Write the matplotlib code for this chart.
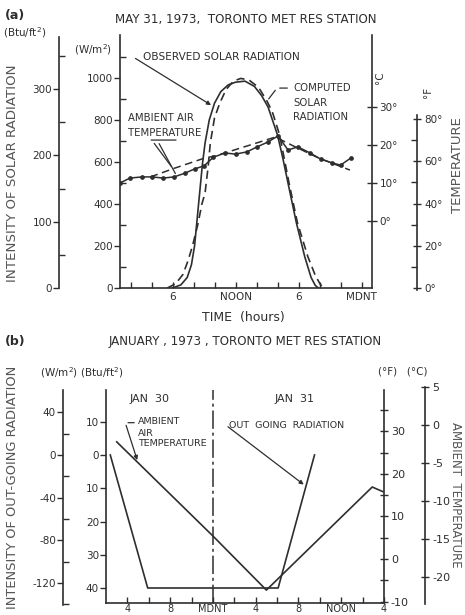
import numpy as np
import matplotlib.pyplot as plt
from matplotlib.ticker import FixedLocator, FuncFormatter

plt.rcParams['font.family'] = 'DejaVu Sans'
plt.rcParams['axes.unicode_minus'] = False

INK = '#2e2e2e'

# ---- panel (a): May 31, 1973 ----
obs_solar_h = [6.0, 6.8, 7.4, 7.8, 8.1, 8.35, 8.6, 8.85, 9.1, 9.5, 10.0, 10.6, 11.3, 12.0, 12.9,
               13.8, 14.5, 15.1, 16.0, 16.5, 17.0, 17.8, 18.6, 19.2, 19.6, 19.9]
obs_solar_w = [0, 15, 50, 110, 200, 330, 460, 590, 690, 800, 880, 935, 967, 980, 985,
               960, 915, 862, 729, 620, 500, 310, 148, 50, 12, 0]
cmp_solar_h = [5.5, 6.3, 7.0, 7.5, 7.9, 8.4, 8.8, 9.1, 9.4, 9.6, 10.0, 10.5, 11.1, 11.8, 12.5,
               13.3, 14.2, 15.0, 15.5, 16.2, 17.1, 17.9, 18.9, 19.6, 20.1, 20.5]
cmp_solar_w = [0, 20, 65, 133, 200, 300, 400, 452, 580, 690, 810, 880, 945, 985, 998,
               990, 955, 890, 840, 729, 500, 310, 148, 60, 15, 0]

obs_temp_h = [1.0, 1.95, 3.1, 4.05, 5.1, 6.15, 7.2, 8.1, 9.0, 9.9, 11.0, 12.0, 13.1, 14.05,
              15.1, 16.05, 17.0, 17.95, 19.1, 20.1, 21.2, 22.0, 23.0]
obs_temp_c = [10.0, 11.3, 11.6, 11.6, 11.3, 11.6, 12.6, 13.7, 14.5, 16.8, 17.9, 17.6, 18.2, 19.5,
              20.8, 22.4, 18.7, 19.5, 17.9, 16.3, 15.3, 14.7, 16.6]
cmp_temp_h = [3.9, 6.2, 9.1, 10.05, 13.4, 15.8, 17.4, 19.9, 22.9]
cmp_temp_c = [11.6, 13.9, 16.6, 17.1, 20.0, 22.1, 19.9, 16.6, 13.4]

a_xticks = [6, 12, 18, 24]
a_xlabels = ['6', 'NOON', '6', 'MDNT']

# ---- panel (b): January 30-31, 1973 (hours from Jan 30 midnight) ----
rad_h = [14.4, 17.9, 30.1, 33.5]
rad_btu = [0, 40, 40, 0]          # out-going, Btu/ft2
air_h = [15.0, 24.0, 29.0, 38.9, 39.9]
air_f = [27.5, 5.4, -7.3, 16.9, 15.8]

b_xticks = [16, 20, 24, 28, 32, 36, 40]
b_xlabels = ['4', '8', 'MDNT', '4', '8', 'NOON', '4']

W, H = 465, 615
fig = plt.figure(figsize=(W / 100, H / 100), dpi=100)


def box(x0, x1, y0, y1):
    return [x0 / W, 1 - y1 / H, (x1 - x0) / W, (y1 - y0) / H]


def lim(y_top, y_bot, y_ref, v_ref, ppu):
    # value range of a vertical pixel span, linear scale
    return (v_ref + (y_ref - y_bot) / ppu, v_ref + (y_ref - y_top) / ppu)


def ftext(x, y, s, **kw):
    kw.setdefault('color', INK)
    kw.setdefault('fontsize', 7.5)
    kw.setdefault('va', 'center')
    fig.text(x / W, 1 - y / H, s, **kw)


def spine_axis(x, y0, y1, ylim, side):
    a = fig.add_axes(box(x, x + 0.05, y0, y1))
    a.set_ylim(*ylim)
    a.patch.set_visible(False)
    for s in a.spines.values():
        s.set_visible(False)
    a.spines[side].set_visible(True)
    a.spines[side].set_color(INK)
    a.spines[side].set_linewidth(1.2)
    a.set_xticks([])
    if side == 'right':
        a.yaxis.tick_right()
    return a


def style_ticks(a, axis='y', size=7.5):
    a.tick_params(axis=axis, which='both', colors=INK, labelcolor=INK, labelsize=size,
                  width=1.0)


# ================= panel (a) =================
ax = fig.add_axes(box(120, 372, 35, 288))
ax.set_xlim(1, 25)
ax.set_ylim(*lim(35, 288, 288, 0, 0.21))
ax.spines['top'].set_visible(False)
for s in ['left', 'bottom', 'right']:
    ax.spines[s].set_color(INK)
    ax.spines[s].set_linewidth(1.2)

ax.plot(obs_solar_h, obs_solar_w, color=INK, lw=1.2)
ax.plot(cmp_solar_h, cmp_solar_w, color=INK, lw=1.2, ls=(0, (5, 3)))

ax.xaxis.set_major_locator(FixedLocator(a_xticks))
ax.set_xticklabels(a_xlabels)
ax.xaxis.set_minor_locator(FixedLocator(list(range(2, 25, 2))))
ax.tick_params(axis='x', which='both', direction='in', length=4, pad=3)
style_ticks(ax, 'x')
ax.yaxis.set_major_locator(FixedLocator(list(range(0, 1001, 200))))
ax.yaxis.set_minor_locator(FixedLocator(list(range(100, 1200, 200))))
ax.tick_params(axis='y', which='major', direction='out', length=4, pad=1)
ax.tick_params(axis='y', which='minor', direction='in', length=4)
style_ticks(ax)

axc = ax.twinx()
axc.set_ylim(*lim(35, 288, 221, 0, 3.8))
for s in axc.spines.values():
    s.set_visible(False)
axc.plot(obs_temp_h, obs_temp_c, color=INK, lw=1.1, marker='o', ms=2.4)
axc.plot(cmp_temp_h, cmp_temp_c, color=INK, lw=1.1, ls=(0, (5, 3)))
axc.yaxis.set_major_locator(FixedLocator([0, 10, 20, 30]))
axc.yaxis.set_major_formatter(FuncFormatter(lambda v, p: '%d°' % v))
axc.tick_params(axis='y', direction='inout', length=7, pad=2)
style_ticks(axc)

btu_a = spine_axis(59, 37, 288, lim(37, 288, 288, 0, 0.663), 'left')
btu_a.yaxis.set_major_locator(FixedLocator([0, 100, 200, 300]))
btu_a.yaxis.set_minor_locator(FixedLocator([50, 150, 250, 350]))
btu_a.tick_params(axis='y', which='major', direction='out', length=4, pad=1)
btu_a.tick_params(axis='y', which='minor', direction='in', length=4)
style_ticks(btu_a)

degf_a = spine_axis(417, 115, 290, lim(115, 290, 288.0, 0, 2.111), 'right')
degf_a.yaxis.set_major_locator(FixedLocator([0, 20, 40, 60, 80]))
degf_a.yaxis.set_minor_locator(FixedLocator([10, 30, 50, 70]))
degf_a.yaxis.set_major_formatter(FuncFormatter(lambda v, p: '%d°' % v))
degf_a.tick_params(axis='y', which='major', direction='inout', length=6, pad=2)
degf_a.tick_params(axis='y', which='minor', direction='in', length=4)
style_ticks(degf_a)

# annotations (a)
ax.annotate('', xy=(9.9, np.interp(9.9, obs_solar_h, obs_solar_w)), xytext=(2.25, 1100),
            arrowprops=dict(arrowstyle='-|>', color=INK, lw=0.9, mutation_scale=6))
ax.annotate('', xy=(15.0, np.interp(15.0, cmp_solar_h, cmp_solar_w)), xytext=(15.95, 952),
            arrowprops=dict(arrowstyle='-', color=INK, lw=0.9))
ax.annotate('', xy=(15.95, 952), xytext=(17.2, 952),
            arrowprops=dict(arrowstyle='-', color=INK, lw=0.9))
axc.annotate('', xy=(3.7, 21.3), xytext=(6.6, 21.3),
             arrowprops=dict(arrowstyle='-', color=INK, lw=0.9))
axc.annotate('', xy=(6.05, np.interp(6.05, cmp_temp_h, cmp_temp_c)), xytext=(4.1, 21.0),
             arrowprops=dict(arrowstyle='-', color=INK, lw=0.9))
axc.annotate('', xy=(6.4, np.interp(6.4, obs_temp_h, obs_temp_c)), xytext=(4.6, 21.0),
             arrowprops=dict(arrowstyle='-', color=INK, lw=0.9))

ftext(5, 15, '(a)', fontsize=9, fontweight='bold')
ftext(246, 19, 'MAY 31, 1973,  TORONTO MET RES STATION', fontsize=8.6, ha='center')
ftext(3, 33, '(Btu/ft$^2$)', fontsize=7.5)
ftext(74, 50, '(W/m$^2$)', fontsize=7.5)
ftext(143, 57, 'OBSERVED SOLAR RADIATION', fontsize=7.6)
ftext(128, 118, 'AMBIENT AIR', fontsize=7.3)
ftext(128, 133, 'TEMPERATURE', fontsize=7.3)
ftext(293, 88, 'COMPUTED', fontsize=7.3)
ftext(293, 103, 'SOLAR', fontsize=7.3)
ftext(293, 117, 'RADIATION', fontsize=7.3)
ftext(380, 78, '°C', fontsize=7.5, rotation=90, ha='center')
ftext(428, 92, '°F', fontsize=7.5, rotation=90, ha='center')
ftext(457, 165, 'TEMPERATURE', fontsize=9.5, rotation=90, ha='center', color='#555555')
ftext(13, 173, 'INTENSITY OF SOLAR RADIATION', fontsize=9.6, rotation=90, ha='center',
      color='#555555')
ftext(243, 318, 'TIME  (hours)', fontsize=9, ha='center')

# ================= panel (b) =================
bx = fig.add_axes(box(106, 384, 390, 603))
bx.set_xlim(14, 40)
btu_lo, btu_hi = lim(390, 603, 455, 0, -3.325)
bx.set_ylim(btu_lo, btu_hi)
bx.spines['top'].set_visible(False)
bx.spines['right'].set_visible(False)
for s in ['left', 'bottom']:
    bx.spines[s].set_color(INK)
    bx.spines[s].set_linewidth(1.2)

bx.plot(rad_h, rad_btu, color=INK, lw=1.2)
bx.axvline(24, color=INK, lw=1.1, ls=(0, (12, 2.5, 2, 2.5)))

bx.xaxis.set_major_locator(FixedLocator(b_xticks))
bx.set_xticklabels(b_xlabels)
bx.xaxis.set_minor_locator(FixedLocator(list(range(18, 40, 4))))
bx.tick_params(axis='x', which='both', direction='in', length=4, pad=0.5)
style_ticks(bx, 'x', size=7)
bx.yaxis.set_major_locator(FixedLocator([-10, 0, 10, 20, 30, 40]))
bx.yaxis.set_major_formatter(FuncFormatter(lambda v, p: '%d' % abs(v)))
bx.tick_params(axis='y', direction='out', length=4, pad=1)
style_ticks(bx)

bf = bx.twinx()
bf.set_ylim(*lim(390, 603, 559, 0, 4.26))
for s in bf.spines.values():
    s.set_visible(False)
bf.spines['right'].set_visible(True)
bf.spines['right'].set_color(INK)
bf.spines['right'].set_linewidth(1.2)
bf.plot(air_h, air_f, color=INK, lw=1.2)
bf.yaxis.set_major_locator(FixedLocator([-10, 0, 10, 20, 30, 40]))
bf.yaxis.set_minor_locator(FixedLocator([-5, 5, 15, 25, 35]))
bf.tick_params(axis='y', which='major', direction='inout', length=6, pad=2)
bf.tick_params(axis='y', which='minor', direction='inout', length=6)
style_ticks(bf, size=8)

wm_b = spine_axis(63, 390, 605, lim(390, 605, 455, 0, 1.067), 'left')
wm_b.yaxis.set_major_locator(FixedLocator([40, 0, -40, -80, -120]))
wm_b.yaxis.set_minor_locator(FixedLocator([20, -20, -60, -100, -140]))
wm_b.tick_params(axis='y', which='major', direction='out', length=4, pad=1)
wm_b.tick_params(axis='y', which='minor', direction='in', length=4)
style_ticks(wm_b)

degc_b = spine_axis(425, 387, 604, lim(387, 604, 425, 0, 7.6), 'right')
degc_b.yaxis.set_major_locator(FixedLocator([-20, -15, -10, -5, 0, 5]))
degc_b.tick_params(axis='y', direction='inout', length=6, pad=2)
style_ticks(degc_b, size=8)

# annotations (b)
bf.annotate('', xy=(17.0, np.interp(17.0, air_h, air_f)), xytext=(15.8, 32.0),
            arrowprops=dict(arrowstyle='-|>', color=INK, lw=0.9, mutation_scale=6))
bf.annotate('', xy=(15.8, 32.0), xytext=(16.9, 32.0),
            arrowprops=dict(arrowstyle='-', color=INK, lw=0.9))
bx.annotate('', xy=(32.7, np.interp(32.7, rad_h[2:], rad_btu[2:])), xytext=(25.2, -9.0),
            arrowprops=dict(arrowstyle='-|>', color=INK, lw=0.9, mutation_scale=6))

ftext(5, 341, '(b)', fontsize=9, fontweight='bold')
ftext(245, 341, 'JANUARY , 1973 , TORONTO MET RES STATION', fontsize=8.6, ha='center')
ftext(40, 373, '(W/m$^2$) (Btu/ft$^2$)', fontsize=7.5)
ftext(403, 371, '(°F)   (°C)', fontsize=7.5, ha='center')
ftext(150, 399, 'JAN  30', fontsize=8, ha='center')
ftext(295, 399, 'JAN  31', fontsize=8, ha='center')
ftext(138, 421, 'AMBIENT', fontsize=6.8)
ftext(138, 433, 'AIR', fontsize=6.8)
ftext(138, 444, 'TEMPERATURE', fontsize=6.8)
ftext(229, 425, 'OUT  GOING  RADIATION', fontsize=6.8)
ftext(13, 487, 'INTENSITY OF OUT-GOING RADIATION', fontsize=9.4, rotation=90, ha='center',
      color='#555555')
ftext(455, 495, 'AMBIENT  TEMPERATURE', fontsize=8.5, rotation=270, ha='center',
      color='#555555')

fig.savefig('out.png', dpi=100)
